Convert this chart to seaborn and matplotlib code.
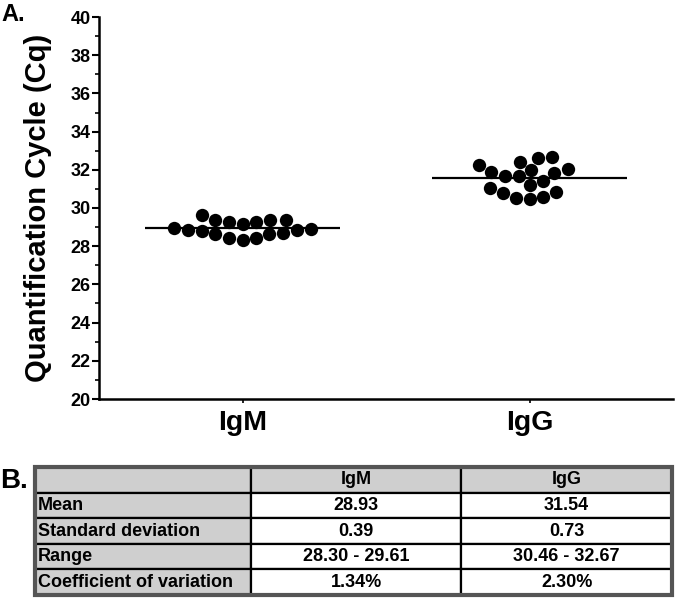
import numpy as np
import pandas as pd
import matplotlib
matplotlib.use("Agg")
import matplotlib.pyplot as plt
import seaborn as sns
from matplotlib.ticker import MultipleLocator

# ---- data ----
categories = ["IgM", "IgG"]
igm_cq = [28.93, 28.86, 28.77, 29.61, 28.65, 29.39, 28.44, 29.28, 28.30,
          29.26, 28.41, 29.37, 28.65, 29.39, 28.70, 28.83, 28.89, 29.18]
igg_cq = [32.24, 31.22, 31.99, 30.84, 31.84, 32.67, 30.55, 31.66, 32.40,
          30.46, 31.43, 32.60, 30.50, 31.66, 30.79, 31.87, 31.05, 32.05]
y_ticks = [20, 22, 24, 26, 28, 30, 32, 34, 36, 38, 40]

table_rows = ["Mean", "Standard deviation", "Range", "Coefficient of variation"]
table_igm = ["28.93", "0.39", "28.30 - 29.61", "1.34%"]
table_igg = ["31.54", "0.73", "30.46 - 32.67", "2.30%"]

sns.set_theme(style="white")
plt.rcParams["font.family"] = ["Liberation Sans", "DejaVu Sans"]
plt.rcParams["font.weight"] = "bold"
for k in ["text.color", "axes.labelcolor", "xtick.color", "ytick.color", "axes.edgecolor"]:
    plt.rcParams[k] = "black"

df = pd.DataFrame({
    "group": ["IgM"] * len(igm_cq) + ["IgG"] * len(igg_cq),
    "cq": igm_cq + igg_cq,
})

fig = plt.figure(figsize=(6.76, 6.01), dpi=100)
ax = fig.add_axes([99 / 676, 1 - 399 / 601, (673 - 99) / 676, (399 - 17) / 601])

sns.swarmplot(data=df, x="group", y="cq", order=categories, color="black",
              size=9.6, linewidth=0, ax=ax)

means = df.groupby("group")["cq"].mean()
for i, c in enumerate(categories):
    ax.hlines(means[c], i - 0.34, i + 0.34, color="black", linewidth=1.6, zorder=1)

ax.set_xlim(-0.5, 1.5)
ax.set_ylim(20, 40)
ax.set_yticks(y_ticks)
ax.yaxis.set_minor_locator(MultipleLocator(1))
ax.set_xlabel("")
ax.set_ylabel("Quantification Cycle (Cq)", fontsize=21, fontweight="bold", labelpad=13)
ax.tick_params(axis="y", which="major", direction="out", length=5, width=1.5,
               labelsize=13, left=True, pad=1)
ax.tick_params(axis="y", which="minor", direction="out", length=3, width=1.2, left=True)
ax.tick_params(axis="x", direction="out", length=3, width=1.2, labelsize=20.5,
               bottom=True, pad=5)
for lab in ax.get_xticklabels() + ax.get_yticklabels():
    lab.set_fontweight("bold")
sns.despine(ax=ax)
for s in ["left", "bottom"]:
    ax.spines[s].set_linewidth(1.8)
    ax.spines[s].set_color("black")

fig.text(1 / 676, 1 - 3 / 601, "A.", fontsize=17, fontweight="bold", va="top", ha="left")
fig.text(0 / 676, 1 - 481 / 601, "B.", fontsize=20, fontweight="bold", va="center", ha="left")

# ---- table ----
tax = fig.add_axes([35 / 676, 1 - 595 / 601, (672 - 35) / 676, (595 - 467) / 601])
tax.axis("off")
cell_text = [["", categories[0], categories[1]]] + [
    [r, a, b] for r, a, b in zip(table_rows, table_igm, table_igg)]
gray = "#cfcfcf"
colors = [[gray, gray, gray]] + [[gray, "white", "white"] for _ in table_rows]
tbl = tax.table(cellText=cell_text, cellColours=colors, bbox=[0, 0, 1, 1],
                colWidths=[0.339, 0.330, 0.331], cellLoc="center")
tbl.auto_set_font_size(False)
for (r, c), cell in tbl.get_celld().items():
    cell.set_edgecolor("black")
    cell.set_linewidth(1.6)
    t = cell.get_text()
    t.set_fontsize(13)
    t.set_fontweight("bold")
    t.set_color("black")
    if c == 0:
        t.set_ha("left")
        cell.PAD = 0.012
        cell._loc = "left"
tax.add_patch(plt.Rectangle((0, 0), 1, 1, transform=tax.transAxes, fill=False,
                            edgecolor="#555555", linewidth=3, zorder=10, clip_on=False))

fig.savefig("out.png", dpi=100)
